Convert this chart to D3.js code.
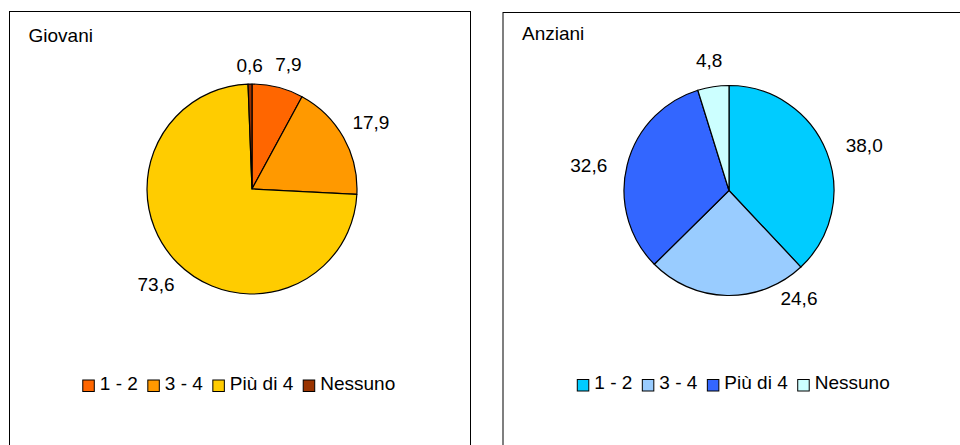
<!DOCTYPE html>
<html>
<head>
<meta charset="utf-8">
<script src="https://cdn.jsdelivr.net/npm/d3@7"></script>
<style>
  body { margin: 0; background: #fff; }
  svg { display: block; }
  text { font-family: "Liberation Sans", Arial, sans-serif; font-size: 19px; fill: #000; }
</style>
</head>
<body>
<svg id="chart" width="960" height="445"></svg>
<script>
// categories shared by both pies
const categories = ["1 - 2", "3 - 4", "Più di 4", "Nessuno"];

// percentages
const giovaniValues = [7.9, 17.9, 73.6, 0.6];
const anzianiValues = [38.0, 24.6, 32.6, 4.8];

const giovaniColors = ["#FF6600", "#FF9900", "#FFCC00", "#993300"];
const anzianiColors = ["#00CCFF", "#99CCFF", "#3366FF", "#CCFFFF"];

const svg = d3.select("#chart");
const fmt = v => d3.format(".1f")(v).replace(".", ",");

// panel layout (positions only)
const panels = [
    { title: "Giovani", values: giovaniValues, colors: giovaniColors,
      x: 9.5, y: 11.5, w: 461, cx: 252, cy: 189, r: 105, titleY: 41.5, legendY: 380,
      pad: 12, nudge: { 0: { a: 2, pad: 15 } } },
    { title: "Anziani", values: anzianiValues, colors: anzianiColors,
      x: 503, y: 12.5, w: 463, cx: 729, cy: 190.5, r: 105, titleY: 40, legendY: 379.5,
      pad: 18, nudge: { 0: { a: 3 }, 1: { a: -34, pad: 8 }, 2: { a: -4 } } }   // Excel moved some labels
];

panels.forEach(p => {
    const g = svg.append("g");

    // frame (no bottom edge in the picture, it runs off the page)
    g.append("rect")
        .attr("x", p.x).attr("y", p.y)
        .attr("width", p.w).attr("height", 500)
        .style("fill", "none")
        .style("stroke", "#000")
        .style("stroke-width", 1);

    g.append("text")
        .attr("x", p.x + 19)
        .attr("y", p.titleY)
        .text(p.title);

    const data = categories.map((c, i) => ({ cat: c, value: p.values[i], color: p.colors[i], i }));

    const pie = d3.pie().value(d => d.value).sort(null);
    const arcs = pie(data);
    const arc = d3.arc().innerRadius(0).outerRadius(p.r);

    const pg = g.append("g").attr("transform", `translate(${p.cx},${p.cy})`);

    pg.selectAll("path")
        .data(arcs)
        .enter()
        .append("path")
        .attr("d", arc)
        .style("fill", d => d.data.color)
        .style("stroke", "#000")
        .style("stroke-width", 1.2)
        .style("stroke-linejoin", "round");

    // labels outside the pie, nearest edge of text a fixed gap off the rim
    pg.selectAll("text.lbl")
        .data(arcs)
        .enter()
        .append("text")
        .attr("class", "lbl")
        .attr("text-anchor", "middle")
        .text(d => fmt(d.data.value))
        .each(function (d) {
            const n = p.nudge[d.data.i] || {};
            const w = this.getComputedTextLength();
            const h = 13.6;
            const a = (d.startAngle + d.endAngle) / 2 + ((n.a || 0) * Math.PI / 180);
            const sx = Math.sin(a), cy = -Math.cos(a);
            const ext = Math.abs(sx) * w / 2 + Math.abs(cy) * h / 2;
            const rr = p.r + (n.pad !== undefined ? n.pad : p.pad) + ext;
            d3.select(this)
                .attr("x", sx * rr)
                .attr("y", cy * rr + h / 2);
        });

    // legend, centred in the panel
    const lg = g.append("g");
    const items = lg.selectAll("g.item")
        .data(data)
        .enter()
        .append("g")
        .attr("class", "item");

    items.append("rect")
        .attr("width", 11.5).attr("height", 11.5)
        .attr("y", p.legendY)
        .style("fill", d => d.color)
        .style("stroke", "#000")
        .style("stroke-width", 1);

    items.append("text")
        .attr("x", 17)
        .attr("y", p.legendY + 9.5)
        .text(d => d.cat);

    let xoff = 0;
    items.each(function () {
        const tw = d3.select(this).select("text").node().getComputedTextLength();
        d3.select(this).attr("transform", `translate(${xoff},0)`);
        xoff += 17 + tw + 10;
    });
    const total = xoff - 10;
    lg.attr("transform", `translate(${p.x + p.w / 2 - total / 2 - 1},0)`);
});
</script>
</body>
</html>
